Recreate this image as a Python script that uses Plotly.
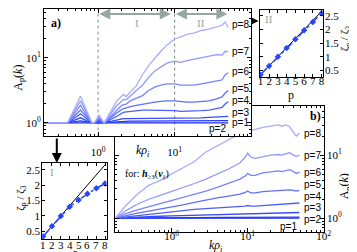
import plotly.graph_objects as go

# ---------------- data ----------------
p_values = [1, 2, 3, 4, 5, 6, 7, 8]

# panel a) A_p(k)
k_a = [0.2, 0.398, 0.589, 0.832, 0.891, 1.03, 1.2, 1.32, 1.51, 1.74, 2.0, 2.14, 2.34, 2.63, 3.16,
       3.8, 4.57, 5.5, 6.61, 7.94, 10.0, 12.0, 14.5, 17.8, 22.4, 28.2, 35.5, 41.7, 45.7, 50.1]
A_a_p1 = [1, 1, 1.01, 1, 1, 1.0, 1, 1.0, 1.0, 1.0, 1.0, 1.0, 1.0, 1.0, 1.0,
          1.0, 1.0, 1.0, 1.0, 1.0, 1.0, 1.0, 1.0, 1.0, 1.0, 1.0, 1.0, 1.0, 1.0, 1.0]
A_a_p2 = [1, 1, 1.08, 1, 1, 1.02, 1, 1.02, 1.035, 1.05, 1.06, 1.07, 1.07, 1.07, 1.07,
          1.07, 1.07, 1.07, 1.07, 1.07, 1.07, 1.07, 1.07, 1.07, 1.07, 1.07, 1.08, 1.08, 1.09, 1.09]
A_a_p3 = [1, 1, 1.2, 1, 1, 1.05, 1, 1.05, 1.07, 1.12, 1.15, 1.17, 1.17, 1.17, 1.2,
          1.2, 1.2, 1.2, 1.2, 1.2, 1.2, 1.2, 1.2, 1.2, 1.2, 1.22, 1.23, 1.25, 1.26, 1.26]
A_a_p4 = [1, 1, 1.38, 1, 1, 1.1, 1, 1.07, 1.15, 1.26, 1.38, 1.45, 1.48, 1.51, 1.55,
          1.58, 1.58, 1.58, 1.58, 1.55, 1.55, 1.51, 1.51, 1.51, 1.55, 1.58, 1.66, 1.74, 1.95, 2.14]
A_a_p5 = [1, 1, 1.58, 1, 1, 1.15, 1, 1.1, 1.23, 1.41, 1.58, 1.66, 1.7, 1.78, 1.86,
          1.95, 2.04, 2.09, 2.14, 2.19, 2.19, 2.14, 2.09, 2.09, 2.14, 2.19, 2.34, 2.51, 2.88, 3.16]
A_a_p6 = [1, 1, 1.86, 1, 1, 1.2, 1, 1.12, 1.32, 1.58, 1.82, 1.91, 1.95, 2.19, 2.4,
          2.63, 3.16, 3.55, 3.8, 3.98, 3.98, 3.8, 3.8, 3.8, 3.98, 4.17, 4.47, 4.57, 5.5, 5.9]
A_a_p7 = [1, 1, 2.19, 1, 1, 1.26, 1, 1.15, 1.45, 1.82, 2.14, 2.29, 2.29, 2.63, 3.16,
          3.8, 5.0, 6.3, 7.2, 8.3, 8.9, 8.5, 9.1, 9.55, 10, 10.7, 11.2, 11.0, 12.6, 12.3]
A_a_p8 = [1, 1, 2.57, 1, 1, 1.32, 1, 1.2, 1.6, 2.15, 2.5, 2.75, 2.55, 3.0, 3.7,
          5.5, 7.6, 10, 12.6, 15.8, 19.5, 21, 23, 24, 26.3, 27.5, 30.2, 31.6, 35.5, 29.5]

# panel b) A_p(k) for h>=3(v_par)
k_b = [0.182, 0.251, 0.355, 0.501, 0.708, 1.0, 1.41, 2.0, 2.82, 3.98, 5.62, 7.94, 9.33,
       10.0, 11.0, 12.6, 15.8, 20.0, 25.1, 28.2, 31.6, 35.5, 39.8, 43.6, 47.9]
A_b_p1 = [1.0, 1.0, 1.0, 1.0, 1.0, 1.0, 1.0, 1.0, 1.0, 1.0, 1.0, 1.0, 1.0,
          1.0, 1.0, 1.0, 1.0, 1.0, 1.0, 1.0, 1.0, 1.0, 1.0, 1.0, 1.0]
A_b_p2 = [1, 1.005, 1.01, 1.012, 1.015, 1.018, 1.02, 1.022, 1.025, 1.027, 1.03, 1.032, 1.033,
          1.035, 1.033, 1.033, 1.035, 1.037, 1.038, 1.038, 1.04, 1.04, 1.04, 1.04, 1.04]
A_b_p3 = [1, 1.023, 1.047, 1.059, 1.072, 1.084, 1.096, 1.109, 1.122, 1.135, 1.148, 1.161, 1.175,
          1.18, 1.175, 1.175, 1.189, 1.202, 1.216, 1.216, 1.225, 1.23, 1.23, 1.23, 1.23]
A_b_p4 = [1, 1.047, 1.096, 1.148, 1.202, 1.259, 1.318, 1.38, 1.413, 1.445, 1.479, 1.514, 1.549,
          1.585, 1.549, 1.549, 1.585, 1.622, 1.66, 1.66, 1.698, 1.698, 1.698, 1.738, 1.738]
A_b_p5 = [1, 1.096, 1.202, 1.288, 1.38, 1.479, 1.622, 1.778, 1.95, 2.089, 2.239, 2.399, 2.57,
          2.692, 2.512, 2.512, 2.63, 2.692, 2.754, 2.754, 2.818, 2.818, 2.754, 2.692, 2.754]
A_b_p6 = [1, 1.175, 1.349, 1.514, 1.66, 1.862, 2.089, 2.344, 2.692, 3.09, 3.548, 4.169, 4.677,
          5.129, 4.786, 4.786, 5.248, 5.495, 5.623, 5.495, 5.754, 5.888, 5.495, 5.129, 5.37]
A_b_p7 = [1, 1.318, 1.66, 1.995, 2.291, 2.63, 3.09, 3.548, 4.169, 5.012, 6.026, 7.586, 9.333,
          10.72, 9.333, 8.913, 9.55, 10, 10.23, 10, 10.47, 10.96, 10, 9.55, 10]
A_b_p8 = [1, 1.585, 2.4, 3.31, 3.98, 5.01, 6.31, 7.94, 11.2, 14.1, 17.8, 21.9, 23.4,
          24.0, 25.1, 25.7, 27.5, 28.8, 30.2, 28.8, 30.2, 28.2, 22.9, 19.95, 22.4]

# insets: zeta_p / zeta_3
zeta_ratio_I = [0.333, 0.667, 1.0, 1.3, 1.52, 1.72, 1.9, 2.05]
zeta_ratio_II = [0.333, 0.66, 1.0, 1.32, 1.64, 1.97, 2.28, 2.6]
ref_p = [1, 8]
ref_ratio = [0.333, 2.667]
p_ticklabels = ['1', '2', '3', '4', '5', '6', '7', '8']

A_a = [A_a_p1, A_a_p2, A_a_p3, A_a_p4, A_a_p5, A_a_p6, A_a_p7, A_a_p8]
A_b = [A_b_p1, A_b_p2, A_b_p3, A_b_p4, A_b_p5, A_b_p6, A_b_p7, A_b_p8]

colors = ['rgb(20,40,240)', 'rgb(35,55,245)', 'rgb(55,75,248)', 'rgb(75,95,250)',
          'rgb(95,112,252)', 'rgb(118,132,253)', 'rgb(142,152,254)', 'rgb(168,172,255)']

W, H = 357, 252
def px(x): return x / W
def py(y): return 1 - y / H

SERIF = 'Liberation Serif'
SANS = 'Liberation Sans'
GRAY = 'rgb(150,166,160)'

fig = go.Figure()

# panel b (drawn first, below panel a)
for i, p in enumerate(p_values):
    fig.add_trace(go.Scatter(x=k_b, y=A_b[i], mode='lines', xaxis='x', yaxis='y',
                             line=dict(color=colors[i], width=1.3), hoverinfo='skip'))
# panel a
for i, p in enumerate(p_values):
    fig.add_trace(go.Scatter(x=k_a, y=A_a[i], mode='lines', xaxis='x2', yaxis='y2',
                             line=dict(color=colors[i], width=1.3), hoverinfo='skip'))
# inset I
fig.add_trace(go.Scatter(x=ref_p, y=ref_ratio, mode='lines', xaxis='x3', yaxis='y3',
                         line=dict(color='black', width=1)))
fig.add_trace(go.Scatter(x=p_values, y=zeta_ratio_I, mode='lines+markers', xaxis='x3', yaxis='y3',
                         line=dict(color='rgb(40,70,255)', width=1.5, dash='dashdot'),
                         marker=dict(symbol='diamond', size=5, color='rgb(40,70,255)')))
# inset II
fig.add_trace(go.Scatter(x=ref_p, y=ref_ratio, mode='lines', xaxis='x4', yaxis='y4',
                         line=dict(color='black', width=1)))
fig.add_trace(go.Scatter(x=p_values, y=zeta_ratio_II, mode='lines+markers', xaxis='x4', yaxis='y4',
                         line=dict(color='rgb(40,70,255)', width=1.5, dash='dashdot'),
                         marker=dict(symbol='diamond', size=5, color='rgb(40,70,255)')))

minor_log = [m * 10 ** e for e in range(-1, 3) for m in range(2, 10)]
tickfont = dict(family=SERIF, size=11, color='black')

def logaxis(domain, rng, tickvals, ticktext, anchor, side=None, standoff=0):
    d = dict(domain=domain, type='log', range=rng, tickmode='array', tickvals=tickvals,
             ticktext=ticktext, ticks='inside', ticklen=4, tickwidth=1, tickcolor='black',
             showline=True, linecolor='black', linewidth=1, mirror='ticks',
             showgrid=False, zeroline=False, anchor=anchor, tickfont=tickfont,
             ticklabelstandoff=standoff,
             minor=dict(tickmode='array', tickvals=minor_log, ticks='inside', ticklen=2,
                        tickcolor='black', showgrid=False))
    if side:
        d['side'] = side
    return d

def linaxis(domain, rng, tickvals, anchor, side=None, standoff=0, showlabels=True):
    d = dict(domain=domain, range=rng, tickmode='array', tickvals=tickvals,
             ticks='inside', ticklen=3, tickwidth=1, tickcolor='black',
             showline=True, linecolor='black', linewidth=1, mirror='ticks',
             showgrid=False, zeroline=False, anchor=anchor, tickfont=tickfont,
             ticklabelstandoff=standoff, showticklabels=showlabels)
    if side:
        d['side'] = side
    return d

dec_text = ['10<sup>0</sup>', '10<sup>1</sup>', '10<sup>2</sup>']

fig.update_layout(
    width=W, height=H, margin=dict(l=0, r=0, t=0, b=0),
    paper_bgcolor='white', plot_bgcolor='white', showlegend=False,
    xaxis=logaxis([px(108), px(322)], [-0.74, 2.002], [1, 10, 100], dec_text, 'y', standoff=-6),
    yaxis=logaxis([py(224), py(98)], [-0.22, 1.78], [1, 10], dec_text[:2], 'x', side='right'),
    xaxis2=logaxis([px(35), px(247)], [-0.705, 1.995], [1, 10], dec_text[:2], 'y2', standoff=6),
    yaxis2=logaxis([py(128), py(1)], [-0.2, 1.75], [1, 10], dec_text[:2], 'x2'),
    xaxis3=linaxis([px(33), px(99)], [0.9, 8.15], p_values, 'y3', showlabels=False),
    yaxis3=linaxis([py(231), py(155)], [0.25, 2.72], [0.5, 1, 1.5, 2, 2.5], 'x3', standoff=-1),
    xaxis4=linaxis([px(256), px(321)], [0.9, 8.15], p_values, 'y4', standoff=-6),
    yaxis4=linaxis([py(69), py(2)], [0.25, 2.72], [0.5, 1, 1.5, 2, 2.5], 'x4', side='right', standoff=-1),
)

shapes = [
    # white background of panel a hiding panel b behind it
    dict(type='rect', xref='x2', yref='y2', x0=0.1, x1=200, y0=0.1, y1=100,
         fillcolor='white', line=dict(width=0), layer='below'),
    dict(type='line', xref='x2', yref='y2', x0=1, x1=1, y0=0.5, y1=70,
         line=dict(color='rgb(120,140,130)', width=1, dash='dot'), layer='below'),
    dict(type='line', xref='x2', yref='y2', x0=10, x1=10, y0=0.5, y1=70,
         line=dict(color='rgb(120,140,130)', width=1, dash='dot'), layer='below'),
]
fig.update_layout(shapes=shapes)

ann = []
def text(x, y, s, size=10, family=SANS, color='black', xanchor='center', angle=0, yanchor='middle'):
    ann.append(dict(x=px(x), y=py(y), xref='paper', yref='paper', text=s, showarrow=False,
                    font=dict(family=family, size=size, color=color), xanchor=xanchor,
                    yanchor=yanchor, textangle=angle, borderpad=0))

# inset I p tick labels, positioned via the inset's x axis
for pv, lab in zip(p_values, p_ticklabels):
    ann.append(dict(x=pv, y=py(236.5), xref='x3', yref='paper', text=lab, showarrow=False,
                    font=tickfont, xanchor='center', yanchor='middle', borderpad=0))

# panel a curve labels
for lab, yy in [('p=8', 17), ('p=7', 43), ('p=6', 63), ('p=5', 80), ('p=4', 92), ('p=3', 104), ('p=1', 115)]:
    text(246, yy, lab, xanchor='right')
text(223, 120, 'p=2', xanchor='right')
# panel b curve labels
for lab, yy in [('p=8', 125), ('p=7', 147), ('p=6', 164), ('p=5', 176), ('p=4', 188), ('p=3', 199), ('p=2', 211)]:
    text(320, yy, lab, xanchor='right')
text(295, 218, 'p=1', xanchor='right')

text(47, 15, '<b>a)</b>', size=12, family=SERIF)
text(313, 108, '<b>b)</b>', size=12, family=SERIF)
text(9, 70, 'A<sub>p</sub>(<i>k</i>)', size=12, family=SERIF, angle=-90)
text(344, 178, 'A<sub>p</sub>(<i>k</i>)', size=12, family=SERIF, angle=-90)
text(136, 143, '<i>kρ</i><sub><i>i</i></sub>', size=12, family=SERIF)
text(211, 238, '<i>kρ</i><sub><i>i</i></sub>', size=12, family=SERIF)
text(141, 166, 'for: <b><i>h</i></b><sub>≥3</sub>(<b><i>v</i></b><sub>||</sub>)', size=10, family=SERIF)
text(11, 190, 'ζ<sub>p</sub> / ζ<sub>3</sub>', size=11, family=SERIF, angle=-90)
text(344, 30, 'ζ<sub>p</sub> / ζ<sub>3</sub>', size=11, family=SERIF, angle=-90)
text(67, 244.5, 'p', size=10, family=SERIF)
text(288, 87, 'p', size=12, family=SERIF)
text(43, 164, 'I', size=11, family=SERIF, color=GRAY)
text(266, 11, 'II', size=11, family=SERIF, color=GRAY)
text(130, 15, 'I', size=11, family=SERIF, color=GRAY)
text(196, 15, 'II', size=11, family=SERIF, color=GRAY)

# gray double arrows for ranges I and II
for x0, x1 in [(92, 165), (170, 223)]:
    ann.append(dict(x=px(x1), y=py(6), xref='paper', yref='paper', ax=-(x1 - x0), ay=0,
                    axref='pixel', ayref='pixel', showarrow=True, arrowside='end+start',
                    arrowhead=2, arrowsize=1, arrowwidth=2.2, arrowcolor=GRAY, text=''))
# black arrows to insets
ann.append(dict(x=px(48), y=py(155), xref='paper', yref='paper', ax=0, ay=-26,
                showarrow=True, arrowhead=2, arrowsize=1, arrowwidth=2, arrowcolor='black', text=''))
ann.append(dict(x=px(255), y=py(13), xref='paper', yref='paper', ax=-8, ay=0,
                showarrow=True, arrowhead=2, arrowsize=1, arrowwidth=1.5, arrowcolor='black', text=''))

fig.update_layout(annotations=ann)
fig.write_html('out.html')
